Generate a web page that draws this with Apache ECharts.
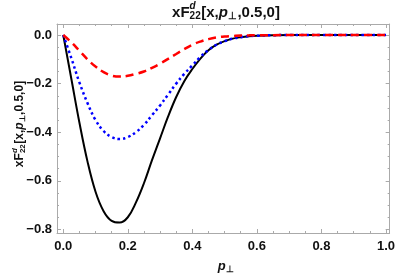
<!DOCTYPE html>
<html><head><meta charset="utf-8">
<script src="https://cdn.jsdelivr.net/npm/echarts@6/dist/echarts.min.js"></script>
<style>html,body{margin:0;padding:0;background:#fff}#c{width:398px;height:279px}</style>
</head><body><div id="c"></div>
<script>
const pT = [0,0.025,0.05,0.075,0.1,0.125,0.15,0.175,0.2,0.225,0.25,0.275,0.3,0.325,0.35,0.375,0.4,0.425,0.45,0.475,0.5,0.525,0.55,0.575,0.6,0.65,0.7,0.8,0.9,1.0];
const blackSolid = [0,-0.18,-0.36,-0.52,-0.645,-0.725,-0.765,-0.772,-0.75,-0.69,-0.61,-0.515,-0.425,-0.335,-0.255,-0.19,-0.14,-0.097,-0.063,-0.04,-0.025,-0.015,-0.009,-0.005,-0.003,-0.001,0,0,0,0];
const blueDotted = [0,-0.095,-0.195,-0.28,-0.35,-0.395,-0.42,-0.428,-0.42,-0.4,-0.37,-0.33,-0.29,-0.245,-0.2,-0.16,-0.125,-0.09,-0.062,-0.04,-0.025,-0.015,-0.009,-0.005,-0.003,-0.001,0,0,0,0];
const redDashed = [0,-0.03,-0.065,-0.1,-0.13,-0.153,-0.167,-0.171,-0.168,-0.16,-0.15,-0.135,-0.118,-0.098,-0.078,-0.058,-0.04,-0.027,-0.017,-0.01,-0.006,-0.004,-0.002,-0.0015,-0.001,-0.0005,0,0,0,0];
const xMajorTicks = [0,0.2,0.4,0.6,0.8,1.0];
const yMajorTicks = [0,-0.2,-0.4,-0.6,-0.8];
const xMinorTicks = [];
for (let i = 1; i < 20; i++) if (i % 4) xMinorTicks.push(+(i*0.05).toFixed(2));
const yMinorTicks = [];
for (let i = 1; i < 17; i++) if (i % 4) yMinorTicks.push(-(i*0.05).toFixed(2));

const X_MIN = -0.0194, X_MAX = 1.0114, Y_MIN = -0.8148, Y_MAX = 0.0453;
const FRAME = '#aaa', TXT = '#111';
const FAM = '"Liberation Sans", Arial, sans-serif';

function fontStr(size, it){ return (it ? 'italic ' : '') + 'bold ' + size + 'px ' + FAM; }
const ctx = document.createElement('canvas').getContext('2d');
function tw(t, size, it){ ctx.font = fontStr(size, it); return ctx.measureText(t).width; }
function txt(t, x, y, size, it){
  return {type:'text', x:x, y:y, style:{text:t, font:fontStr(size,it), fill:TXT, align:'left', verticalAlign:'middle'}};
}
function buildLabel(pieces, size, small, supDy, subDy){
  let x = 0; const els = [];
  for (const p of pieces){
    if (p.t !== undefined){ els.push(txt(p.t, x, 0, size, p.it)); x += tw(p.t, size, p.it); }
    else {
      let ww = 0;
      if (p.sup){ els.push(txt(p.sup, x, supDy, small, true)); ww = Math.max(ww, tw(p.sup, small, true)); }
      if (p.sub){ els.push(txt(p.sub, x, subDy, small, false)); ww = Math.max(ww, tw(p.sub, small, false)); }
      x += ww + 0.5;
    }
  }
  els.forEach(e => e.x -= x/2);
  return els;
}
const labelPieces = [{t:'xF'},{sup:'d',sub:'22'},{t:'[x,'},{t:'p',it:true},{sub:'\u22a5'},{t:',0.5,0]'}];

function xAx(pos, ticks, len, line, label){
  return {type:'value', position:pos, min:X_MIN, max:X_MAX, splitLine:{show:false},
    axisLine:{show:line, onZero:false, lineStyle:{color:FRAME, width:1}},
    axisTick:{show:true, inside:true, length:len, customValues:ticks, lineStyle:{color:FRAME}},
    axisLabel:{show:label, customValues:ticks, margin:7, color:TXT, fontSize:13, fontWeight:'bold', fontFamily:FAM,
      formatter:v => v.toFixed(1)}};
}
function yAx(pos, ticks, len, line, label){
  return {type:'value', position:pos, min:Y_MIN, max:Y_MAX, splitLine:{show:false},
    axisLine:{show:line, onZero:false, lineStyle:{color:FRAME, width:1}},
    axisTick:{show:true, inside:true, length:len, customValues:ticks, lineStyle:{color:FRAME}},
    axisLabel:{show:label, customValues:ticks, margin:5, color:TXT, fontSize:13, fontWeight:'bold', fontFamily:FAM,
      formatter:v => (v < 0 ? '\u2212' + Math.abs(v).toFixed(1) : v.toFixed(1))}};
}
const mk = arr => pT.map((x,i) => [x, arr[i]]);

const chart = echarts.init(document.getElementById('c'), null, {renderer:'canvas'});
chart.setOption({
  animation:false,
  grid:{left:57, right:6, top:24, bottom:46, containLabel:false},
  xAxis:[xAx('bottom', xMajorTicks, 4, true, true), xAx('bottom', xMinorTicks, 2, false, false),
         xAx('top', xMajorTicks, 4, true, false), xAx('top', xMinorTicks, 2, false, false)],
  yAxis:[yAx('left', yMajorTicks, 4, true, true), yAx('left', yMinorTicks, 2, false, false),
         yAx('right', yMajorTicks, 4, true, false), yAx('right', yMinorTicks, 2, false, false)],
  series:[
    {type:'line', data:mk(blackSolid), showSymbol:false, smooth:0.4, lineStyle:{color:'#000', width:2, type:'solid'}},
    {type:'line', data:mk(blueDotted), showSymbol:false, smooth:0.4, lineStyle:{color:'#0000ff', width:2.5, type:[2.5,3]}},
    {type:'line', data:mk(redDashed), showSymbol:false, smooth:0.4, lineStyle:{color:'#ff0000', width:2.5, type:[8,5]}}
  ],
  graphic:[
    {type:'group', x:226, y:13, children:buildLabel(labelPieces, 15, 10, -7, 3.5)},
    {type:'group', x:20, y:124, rotation:Math.PI/2, children:buildLabel(labelPieces, 12, 8, -5.5, 3)},
    {type:'group', x:226, y:266, children:buildLabel([{t:'p',it:true},{sub:'\u22a5'}], 13, 9, -5, 3.5)}
  ]
});
</script></body></html>
